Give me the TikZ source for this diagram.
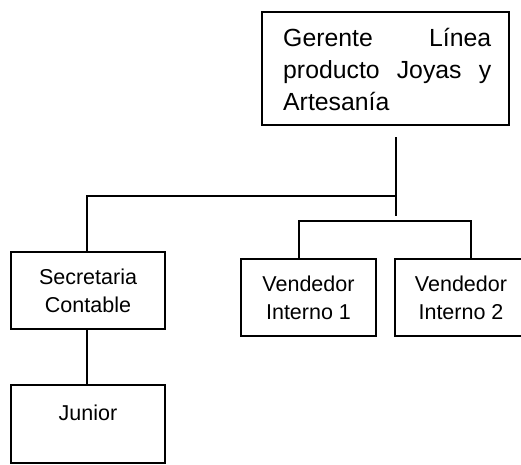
\documentclass[tikz,border=0pt]{standalone}
\usepackage{fontspec}
\setmainfont{Liberation Sans}
\begin{document}
\begin{tikzpicture}[x=1pt,y=-1pt,
  box/.style={draw, line width=1.5pt, rectangle, inner sep=0pt},
  small/.style={font=\fontsize{21.5}{28}\selectfont, align=center},
  link/.style={line width=1.5pt}]
\useasboundingbox (0,0) rectangle (521,464);
\clip (0,0) rectangle (521,464);

% head of the line
\node[box, minimum width=247pt, minimum height=113pt] (gerente) at (385.5,68.5) {};
\node[text width=208pt, inner sep=0pt, anchor=base west,
      font=\fontsize{24.8}{32}\selectfont] (gerentetxt) at (283,46)
  {Gerente\hfill Línea\\ producto\hfill Joyas\hfill y\\ Artesanía};

% staff boxes
\node[box, small, minimum width=154pt, minimum height=77pt] (sec) at (88,290.5) {Secretaria\\Contable};
\node[box, minimum width=154pt, minimum height=78pt] (junior) at (88,424) {};
\node[small, anchor=base, inner sep=0pt] (juniortxt) at (88,420) {Junior};
\node[box, small, minimum width=135pt, minimum height=77pt] (v1) at (308.5,297.5) {Vendedor\\Interno 1};
\node[box, small, minimum width=132pt, minimum height=77pt] (v2) at (461,297.5) {Vendedor\\Interno 2};

% connectors
\coordinate (trunktop) at (396,137);
\coordinate (trunkbot) at (396,216);
\coordinate (split) at (396,196);
\coordinate (bar) at (299,221);
\draw[link] (trunktop) -- (trunkbot);
\draw[link] (split) -| ([xshift=-1pt]sec.north);
\draw[link] ([xshift=-1pt]sec.south) -- ([xshift=-1pt]junior.north);
\draw[link] ([xshift=-9.5pt]v1.north) |- (bar) -| ([xshift=10pt]v2.north);
\end{tikzpicture}
\end{document}
